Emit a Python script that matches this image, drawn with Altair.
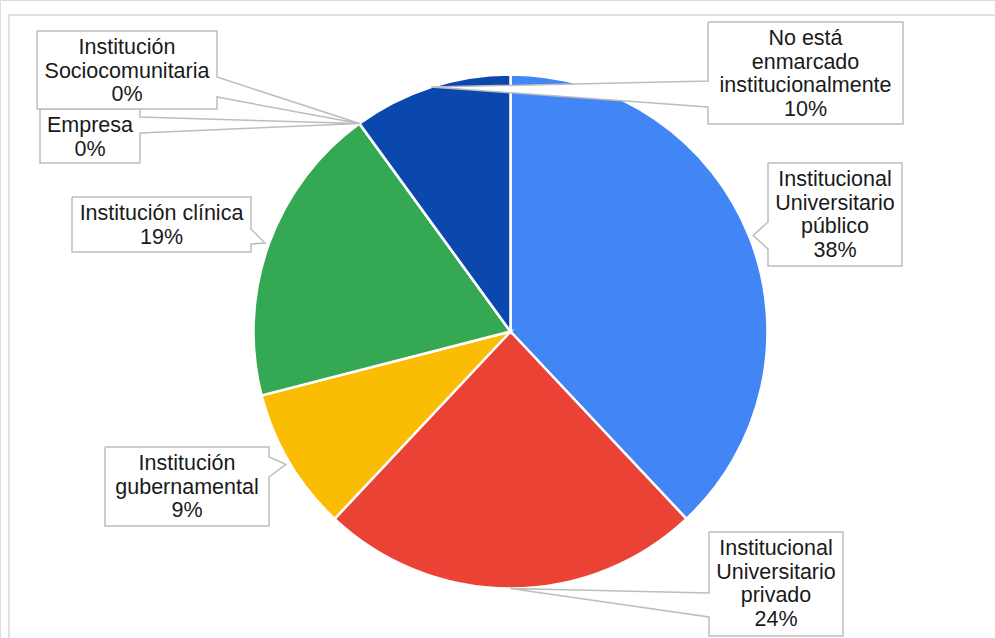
import math
import altair as alt
import pandas as pd

# ---- data ----
categories = [
    "Institucional Universitario público",
    "Institucional Universitario privado",
    "Institución gubernamental",
    "Institución clínica",
    "Empresa",
    "Institución Sociocomunitaria",
    "No está enmarcado institucionalmente",
]
values = [38, 24, 9, 19, 0, 0, 10]
label_names = [
    "Institucional\nUniversitario\npúblico ",
    "Institucional\nUniversitario\nprivado",
    "Institución\ngubernamental",
    "Institución clínica",
    "Empresa",
    "Institución\nSociocomunitaria",
    "No está\nenmarcado\ninstitucionalmente",
]
colors = ["#4285F4", "#EA4335", "#FBBC04", "#34A853", "#FF6D01", "#46BDC6", "#0B48AE"]

# ---- layout (pixels) ----
W, H = 995, 638
CX, CY, R = 510.5, 331.5, 257
# box: x0, y0, x1, y1, side of pointer, attach y1, attach y2, tip offset
boxes = {
    "Institucional Universitario público": (768, 163, 902, 266, "left", 222, 249, 4),
    "Institucional Universitario privado": (709, 532, 843, 636, "left", 593, 617, 0),
    "Institución gubernamental": (105, 447, 269, 526, "right", 457, 477, 4),
    "Institución clínica": (72, 197, 251, 252, "right", 229, 244, 4),
    "Empresa": (40, 109, 140, 163, "right", 117, 133, 0),
    "Institución Sociocomunitaria": (37, 31, 217, 109, "right", 77, 97, 0),
    "No está enmarcado institucionalmente": (708, 22, 903, 124, "left", 81, 107, 0),
}
draw_order = [
    "Empresa",
    "Institución Sociocomunitaria",
    "No está enmarcado institucionalmente",
    "Institucional Universitario público",
    "Institucional Universitario privado",
    "Institución gubernamental",
    "Institución clínica",
]

pie_df = pd.DataFrame({"cat": categories, "value": values, "idx": list(range(len(categories)))})

total = sum(values)
cum = 0
tips = {}
for c, v in zip(categories, values):
    mid = (cum + v / 2) / total * 2 * math.pi
    cum += v
    off = boxes[c][7]
    tips[c] = (CX + (R + off) * math.sin(mid), CY - (R + off) * math.cos(mid))

poly_rows = []
text_rows = []
for k, c in enumerate(draw_order):
    x0, y0, x1, y1, side, a1, a2, _ = boxes[c]
    tx, ty = tips[c]
    if side == "left":
        pts = [(x0, y0), (x1, y0), (x1, y1), (x0, y1), (x0, a2), (tx, ty), (x0, a1), (x0, y0)]
    else:
        pts = [(x0, y0), (x1, y0), (x1, a1), (tx, ty), (x1, a2), (x1, y1), (x0, y1), (x0, y0)]
    for j, (px, py) in enumerate(pts):
        poly_rows.append({"id": k, "o": j, "px": px, "py": py})
    i = categories.index(c)
    txt = label_names[i] + "\n" + f"{values[i]}%"
    text_rows.append({"id": k, "px": (x0 + x1) / 2, "py": y0 + 23, "txt": txt})

poly_df = pd.DataFrame(poly_rows)
text_df = pd.DataFrame(text_rows)

xs = alt.Scale(domain=[0, W], range=[0, W])
ys = alt.Scale(domain=[0, H], range=[0, H])

frame = alt.Chart(pd.DataFrame({"a": [9], "b": [W + 20], "c": [15], "d": [H + 20]})).mark_rect(
    fill="white", stroke="#D9D9D9", strokeWidth=1.5
).encode(
    x=alt.X("a:Q", scale=xs, axis=None),
    x2="b:Q",
    y=alt.Y("c:Q", scale=ys, axis=None),
    y2="d:Q",
)

pie = alt.Chart(pie_df).mark_arc(stroke="white", strokeWidth=2.5).encode(
    theta=alt.Theta("value:Q", stack=True),
    color=alt.Color("cat:N", scale=alt.Scale(domain=categories, range=colors), legend=None),
    order=alt.Order("idx:Q"),
    x=alt.value(CX),
    y=alt.value(CY),
    radius=alt.value(R),
)

layers = [frame, pie]
for k in range(len(draw_order)):
    sub = poly_df[poly_df["id"] == k]
    layers.append(
        alt.Chart(sub).mark_line(fill="white", stroke="#BDBDBD", strokeWidth=1.5, strokeJoin="miter").encode(
            x=alt.X("px:Q", scale=xs, axis=None),
            y=alt.Y("py:Q", scale=ys, axis=None),
            order=alt.Order("o:Q"),
        )
    )

texts = alt.Chart(text_df).mark_text(
    font="Liberation Sans", fontSize=21.5, lineBreak="\n", lineHeight=23.5,
    align="center", baseline="alphabetic", color="#1A1A1A"
).encode(
    x=alt.X("px:Q", scale=xs, axis=None),
    y=alt.Y("py:Q", scale=ys, axis=None),
    text="txt:N",
)
layers.append(texts)

chart = alt.layer(*layers).properties(
    width=W, height=H, padding=0, autosize=alt.AutoSizeParams(type="none")
).configure_view(stroke=None).configure(background="white")

chart.save("out.html", embed_options={"renderer": "svg", "actions": False})
